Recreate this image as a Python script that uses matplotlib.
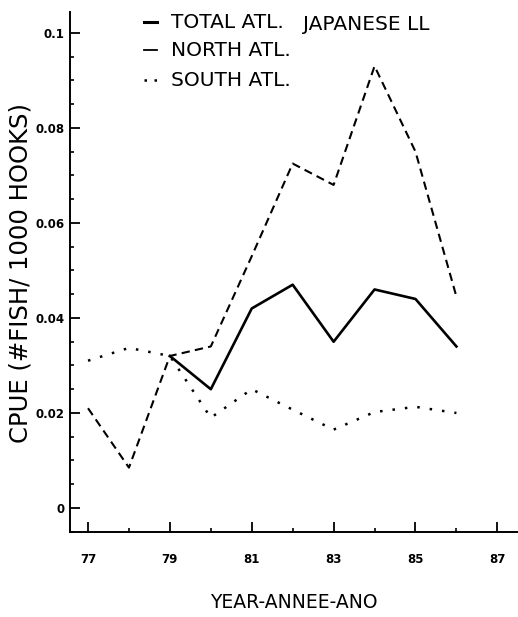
import numpy as np
import matplotlib
matplotlib.use("Agg")
import matplotlib.pyplot as plt
from matplotlib.lines import Line2D
from matplotlib.ticker import MultipleLocator, FixedLocator

plt.rcParams['font.family'] = ['DejaVu Sans']

# CPUE of the Japanese longline fishery, by year
years = [77, 78, 79, 80, 81, 82, 83, 84, 85, 86]
total_atl = [np.nan, np.nan, 0.032, 0.025, 0.042, 0.047, 0.035, 0.046, 0.044, 0.034]
north_atl = [0.021, 0.0085, 0.032, 0.034, 0.053, 0.0725, 0.068, 0.093, 0.075, 0.0445]
south_atl = [0.031, 0.0337, 0.032, 0.019, 0.025, 0.0207, 0.0165, 0.0202, 0.0213, 0.020]

y_ticks = [0, 0.02, 0.04, 0.06, 0.08, 0.1]
y_tick_labels = ["0", "0.02", "0.04", "0.06", "0.08", "0.1"]
x_ticks = [77, 79, 81, 83, 85, 87]
x_tick_labels = ["77", "79", "81", "83", "85", "87"]

W, H = 518, 617
fig = plt.figure(figsize=(W / 100, H / 100), dpi=100)
ax = fig.add_axes([70 / W, (H - 532) / H, (517 - 70) / W, (532 - 12) / H])

ax.plot(years, total_atl, color="black", lw=1.9, linestyle="-")
ax.plot(years, north_atl, color="black", lw=1.5, linestyle=(0, (4, 2.5)))
ax.plot(years, south_atl, color="black", lw=1.8, linestyle=(0, (1, 4)))

ax.set_xlim(76.56, 87.48)
ax.set_ylim(-0.00505, 0.1044)

for side in ("top", "right"):
    ax.spines[side].set_visible(False)
for side in ("left", "bottom"):
    ax.spines[side].set_linewidth(1.4)

ax.yaxis.set_major_locator(FixedLocator(y_ticks))
ax.set_yticklabels(y_tick_labels)
ax.yaxis.set_minor_locator(MultipleLocator(0.005))
ax.xaxis.set_major_locator(FixedLocator(x_ticks))
ax.set_xticklabels(x_tick_labels)
ax.xaxis.set_minor_locator(MultipleLocator(1))

ax.tick_params(axis="both", which="major", direction="in", length=7, width=1.3,
               labelsize=8.5, pad=4)
ax.tick_params(axis="both", which="minor", direction="in", length=3, width=1.2)
ax.tick_params(axis="x", which="major", pad=15)
for lab in ax.get_xticklabels() + ax.get_yticklabels():
    lab.set_fontweight("bold")

fig.text(21 / W, 1 - 273 / H, "CPUE (#FISH/ 1000 HOOKS)", rotation=90,
         ha="center", va="center", fontsize=17.5)
fig.text(294 / W, 1 - 602 / H, "YEAR-ANNEE-ANO", ha="center", va="center",
         fontsize=13.5)

# key in the upper part of the plot
rows = [(22, "TOTAL ATL.", "-", 2.2), (50, "NORTH ATL.", "-", 1.3),
        (80, "SOUTH ATL.", (0, (1, 3)), 1.8)]
for y, label, ls, lw in rows:
    fig.add_artist(Line2D([144 / W, 157 / W], [1 - y / H, 1 - y / H],
                          color="black", lw=lw, linestyle=ls))
    fig.text(171 / W, 1 - y / H, label, ha="left", va="center", fontsize=14.5)
fig.text(303 / W, 1 - 25 / H, "JAPANESE LL", ha="left", va="center", fontsize=14.5)

fig.savefig("out.png", dpi=100, facecolor="white")
